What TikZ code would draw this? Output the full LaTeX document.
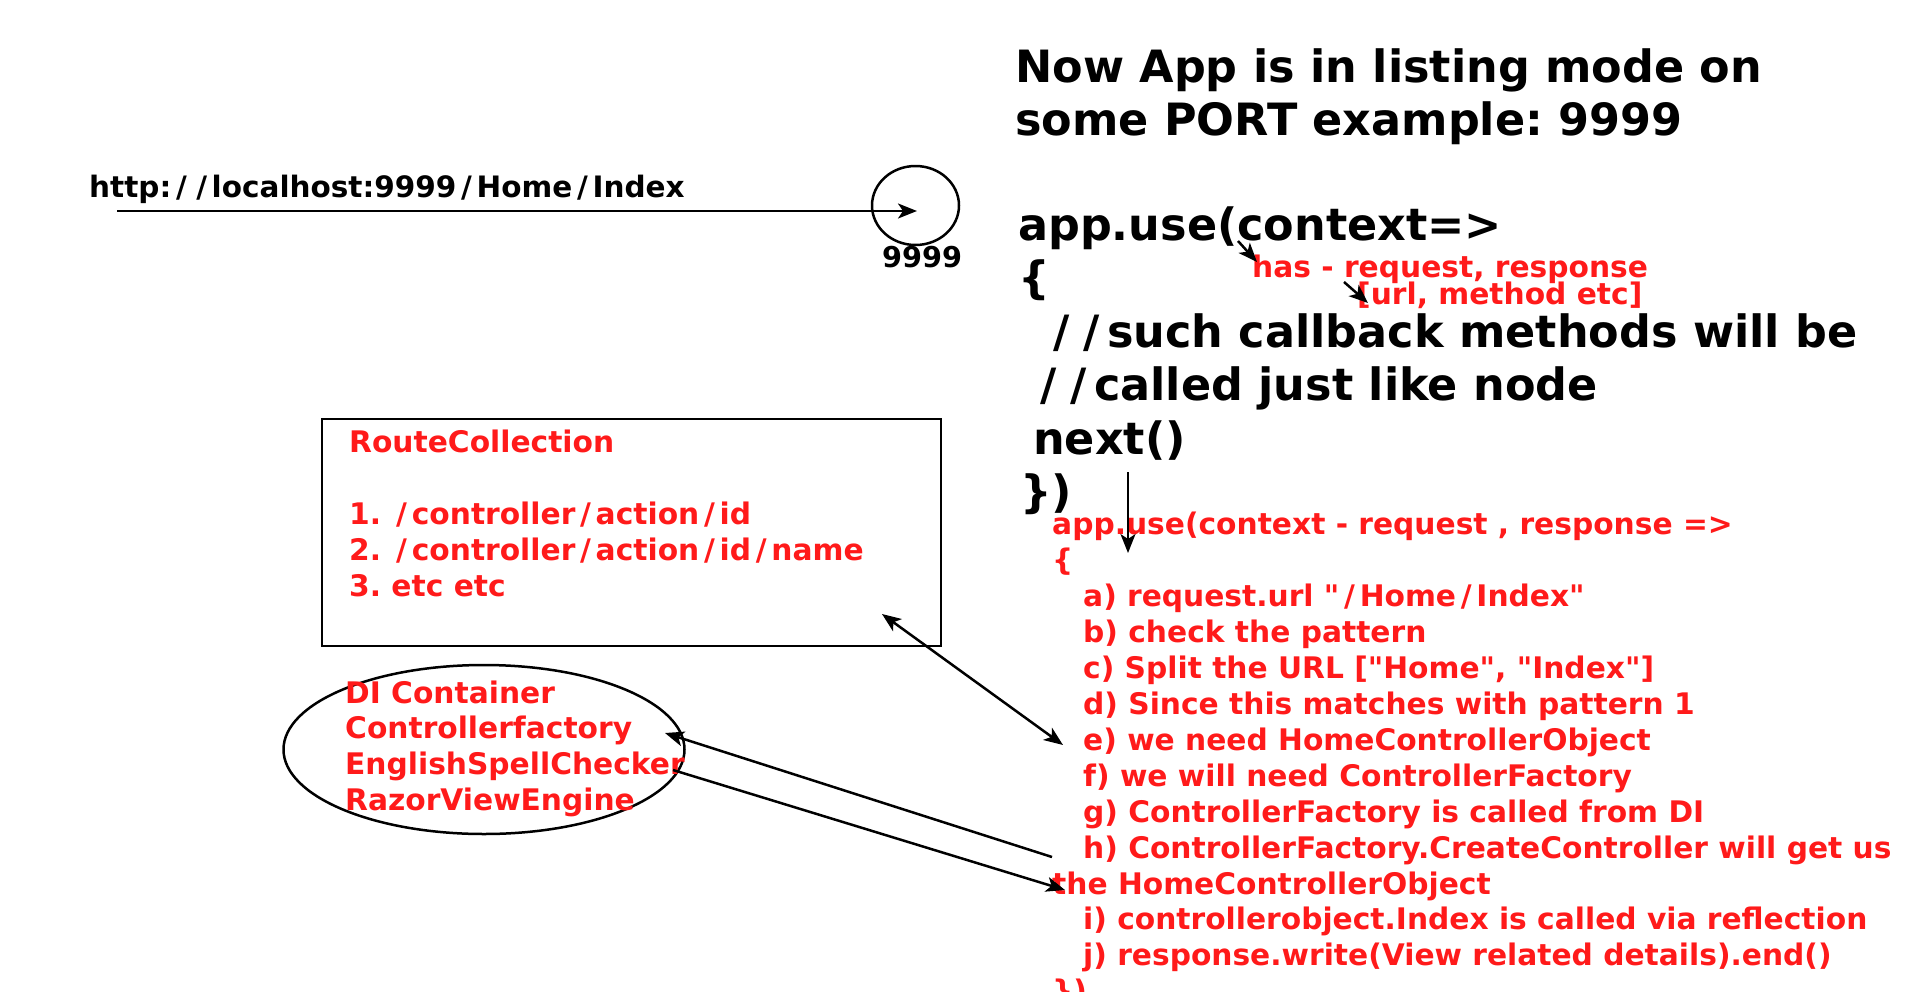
\documentclass[tikz,border=0pt]{standalone}
\usepackage{fontspec}
\setmainfont{DejaVu Sans}[Ligatures=TeXOff]
\usepackage{tikz}
\usetikzlibrary{arrows.meta,shapes.geometric}
\definecolor{notered}{RGB}{255,26,26}
\newcommand{\wideslash}{\kern.16em/\kern.16em}
\frenchspacing
\tikzstyle{headline} = [inner sep=0, anchor=base west, font=\bfseries\fontsize{44.5}{53}\selectfont]
\tikzstyle{codeline} = [inner sep=0, anchor=base west, font=\bfseries\fontsize{44.5}{53}\selectfont]
\tikzstyle{redline} = [inner sep=0, anchor=base west, text=notered, font=\bfseries\fontsize{29.7}{36}\selectfont]
\tikzstyle{urltext} = [inner sep=0, anchor=base west, font=\bfseries\fontsize{29.5}{36}\selectfont]
\tikzstyle{porttext} = [inner sep=0, anchor=base west, font=\bfseries\fontsize{28.7}{34}\selectfont]
\tikzstyle{pointer} = [line width=2.5pt, -{Stealth[length=19pt, width=15pt, inset=5pt]}]
\tikzstyle{bothways} = [line width=2.5pt, {Stealth[length=19pt, width=15pt, inset=5pt]}-{Stealth[length=19pt, width=15pt, inset=5pt]}]

\begin{document}
\begin{tikzpicture}[x=1pt, y=-1pt]
        \useasboundingbox (0,0) rectangle (1920,991);
        % request to the port
        \node (url) [urltext] at (89,197) {http:\wideslash\wideslash localhost:9999\wideslash Home\wideslash Index};
        \node (port) [ellipse, draw, line width=2.5pt, minimum width=87pt, minimum height=79pt, inner sep=0] at (915.5,205.5) {};
        \node (portno) [porttext] at (882,267) {9999};
        \coordinate (urlstart) at (117,211);
        \coordinate (porthit) at (917,211);
        \draw [pointer] (urlstart) -- (porthit);
        % heading
        \node (title1) [headline] at (1015,82) {Now App is in listing mode on};
        \node (title2) [headline] at (1015,135) {some PORT example: 9999};
        % middleware callback
        \node (code1) [codeline] at (1018,240) {app.use(context=>};
        \node (code2) [codeline] at (1018,293.5) {\{};
        \node (code3) [codeline] at (1046,347) {\wideslash\wideslash such callback methods will be};
        \node (code4) [codeline] at (1033,400.5) {\wideslash\wideslash called just like node};
        \node (code5) [codeline] at (1033,454) {next()};
        \node (code6) [codeline] at (1020,507.5) {\})};
        \node (has) [redline] at (1252,277) {has - request, response};
        \node (urlmethod) [redline] at (1357,304) {[url, method etc]};
        \coordinate (hasfrom) at (1238,241);
        \coordinate (hasto) at (1257,262);
        \coordinate (methodfrom) at (1344,282);
        \coordinate (methodto) at (1368,303);
        \draw [pointer] (hasfrom) -- (hasto);
        \draw [pointer] (methodfrom) -- (methodto);
        % routing steps
        \node (step0) [redline] at (1052,534) {app.use(context - request , response =>};
        \node (step1) [redline] at (1052,570) {\{};
        \node (stepa) [redline] at (1083,606.8) {a) request.url "\wideslash Home\wideslash Index"};
        \node (stepb) [redline] at (1083,642.7) {b) check the pattern};
        \node (stepc) [redline] at (1083,678.6) {c) Split the URL ["Home", "Index"]};
        \node (stepd) [redline] at (1083,714.5) {d) Since this matches with pattern 1};
        \node (stepe) [redline] at (1083,750.4) {e) we need HomeControllerObject};
        \node (stepf) [redline] at (1083,786.3) {f) we will need ControllerFactory};
        \node (stepg) [redline] at (1083,822.2) {g) ControllerFactory is called from DI};
        \node (steph) [redline] at (1083,858.1) {h) ControllerFactory.CreateController will get us};
        \node (stepht) [redline] at (1052,894) {the HomeControllerObject};
        \node (stepi) [redline] at (1083,929.9) {i) controllerobject.Index is called via reflection};
        \node (stepj) [redline] at (1083,965.8) {j) response.write(View related details).end()};
        \node (stepz) [redline] at (1052,1001.7) {\})};
        \coordinate (nextfrom) at (1128,472);
        \coordinate (nextto) at (1128,553);
        \draw [pointer, line width=2pt] (nextfrom) -- (nextto);
        % route table
        \node (routes) [rectangle, draw, line width=2.5pt, minimum width=619pt, minimum height=227pt, inner sep=0] at (631.5,532.5) {};
        \node (route0) [redline] at (349,452) {RouteCollection};
        \node (route1) [redline] at (349,524) {1. \wideslash controller\wideslash action\wideslash id};
        \node (route2) [redline] at (349,560) {2. \wideslash controller\wideslash action\wideslash id\wideslash name};
        \node (route3) [redline] at (349,596) {3. etc etc};
        % container
        \node (di) [ellipse, draw, line width=2.5pt, minimum width=401pt, minimum height=169pt, inner sep=0] at (484,749.5) {};
        \node (di1) [redline] at (345,703) {DI Container};
        \node (di2) [redline] at (345,738.7) {Controllerfactory};
        \node (di3) [redline] at (345,774.4) {EnglishSpellChecker};
        \node (di4) [redline] at (345,810) {RazorViewEngine};
        \coordinate (routeend) at (882,614);
        \coordinate (stepeend) at (1063,745);
        \coordinate (backfrom) at (1052,857);
        \coordinate (backto) at (665,733);
        \coordinate (outfrom) at (673,770);
        \coordinate (outto) at (1065,890);
        \draw [bothways] (routeend) -- (stepeend);
        \draw [pointer] (backfrom) -- (backto);
        \draw [pointer] (outfrom) -- (outto);
    \end{tikzpicture}
\end{document}
